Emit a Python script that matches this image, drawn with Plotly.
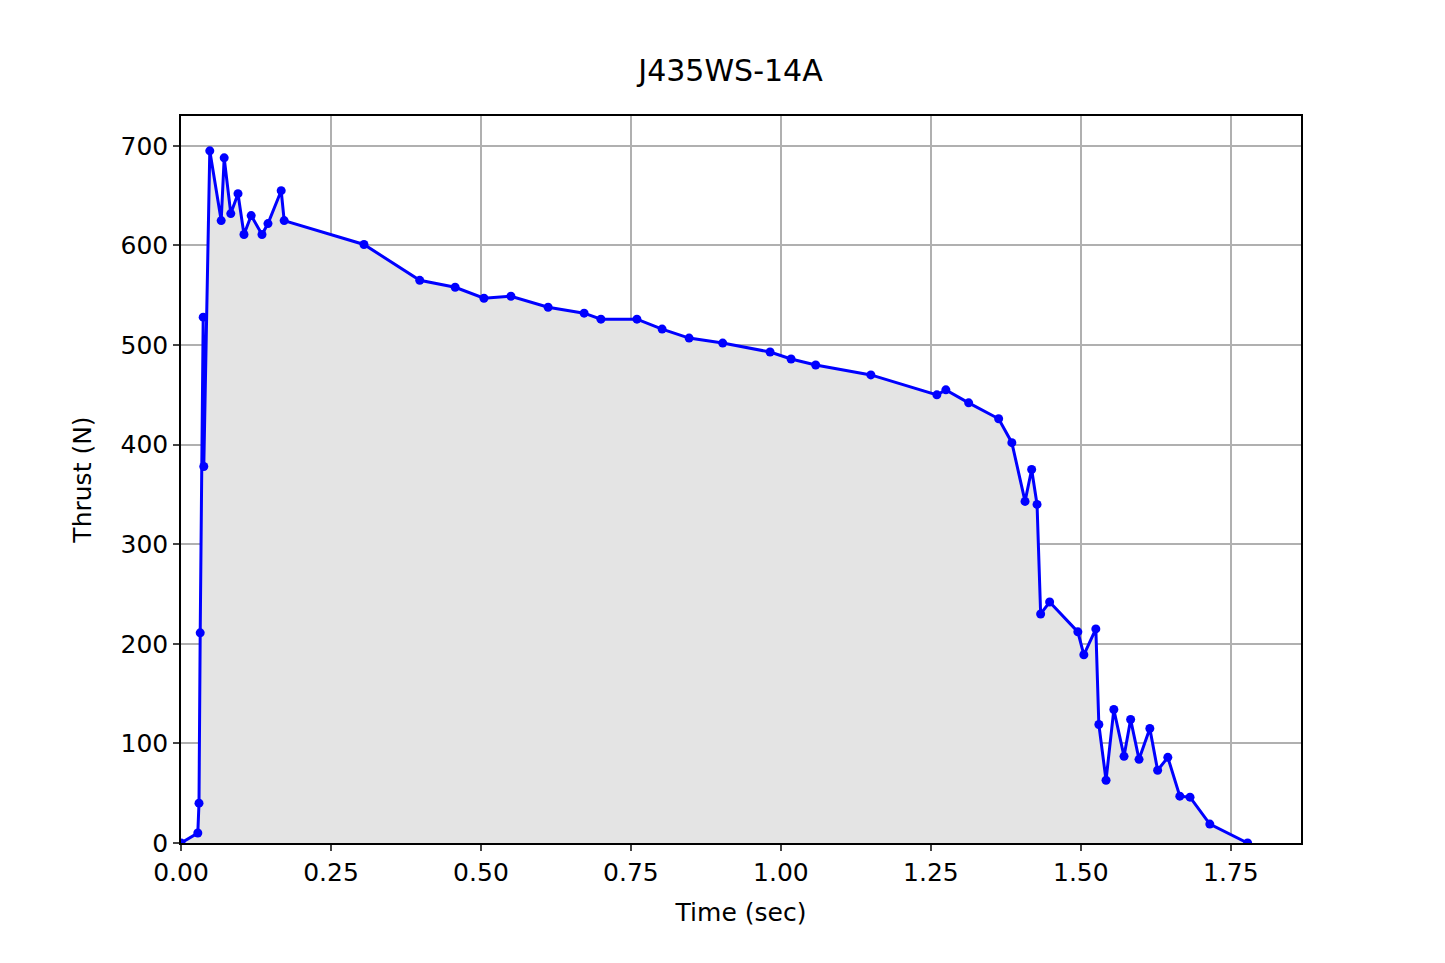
import plotly.graph_objects as go

time_s = [0, 0.028, 0.030, 0.032, 0.037, 0.038, 0.048, 0.067, 0.072, 0.083, 0.095, 0.105, 0.117,
          0.135, 0.145, 0.167, 0.172, 0.305, 0.398, 0.457, 0.505, 0.550, 0.612, 0.672, 0.700,
          0.760, 0.802, 0.847, 0.903, 0.982, 1.017, 1.058, 1.150, 1.260, 1.275, 1.313, 1.363,
          1.385, 1.407, 1.418, 1.427, 1.433, 1.448, 1.495, 1.505, 1.525, 1.530, 1.542, 1.555,
          1.572, 1.583, 1.597, 1.615, 1.628, 1.645, 1.665, 1.682, 1.715, 1.778]
thrust_n = [0, 10, 40, 211, 528, 378, 695, 625, 688, 632, 652, 611, 630,
            611, 622, 655, 625, 601, 565, 558, 547, 549, 538, 532, 526,
            526, 516, 507, 502, 493, 486, 480, 470, 450, 455, 442, 426,
            402, 343, 375, 340, 230, 242, 212, 189, 215, 119, 63, 134,
            87, 124, 84, 115, 73, 86, 47, 46, 19, 0]

fig = go.Figure()
fig.add_trace(go.Scatter(x=time_s, y=thrust_n, mode="lines+markers", fill="tozeroy",
                         fillcolor="#e4e4e4", line=dict(color="blue", width=3),
                         marker=dict(color="blue", size=9)))
fnt = dict(family="DejaVu Sans", size=25, color="black")
ax = dict(showline=True, mirror=True, linecolor="black", linewidth=1.5, ticks="outside",
          ticklen=6, tickwidth=1.5, showgrid=True, gridcolor="#b0b0b0", gridwidth=1.5,
          zeroline=False, tickfont=fnt, title_font=fnt)
fig.update_xaxes(range=[0, 1.867], tickvals=[0, 0.25, 0.5, 0.75, 1.0, 1.25, 1.5, 1.75],
                 ticktext=["0.00", "0.25", "0.50", "0.75", "1.00", "1.25", "1.50", "1.75"],
                 title_text="Time (sec)", title_standoff=18, **ax)
fig.update_yaxes(range=[0, 730], dtick=100, title_text="Thrust (N)", title_standoff=22, **ax)
fig.update_layout(width=1445, height=963, plot_bgcolor="white", paper_bgcolor="white",
                  margin=dict(l=173, r=152, t=108, b=128), showlegend=False,
                  title=dict(text="J435WS-14A", x=0.5, xanchor="center", y=0.935, yanchor="middle",
                             font=dict(family="DejaVu Sans", size=30, color="black")))
fig.write_html("out.html")
